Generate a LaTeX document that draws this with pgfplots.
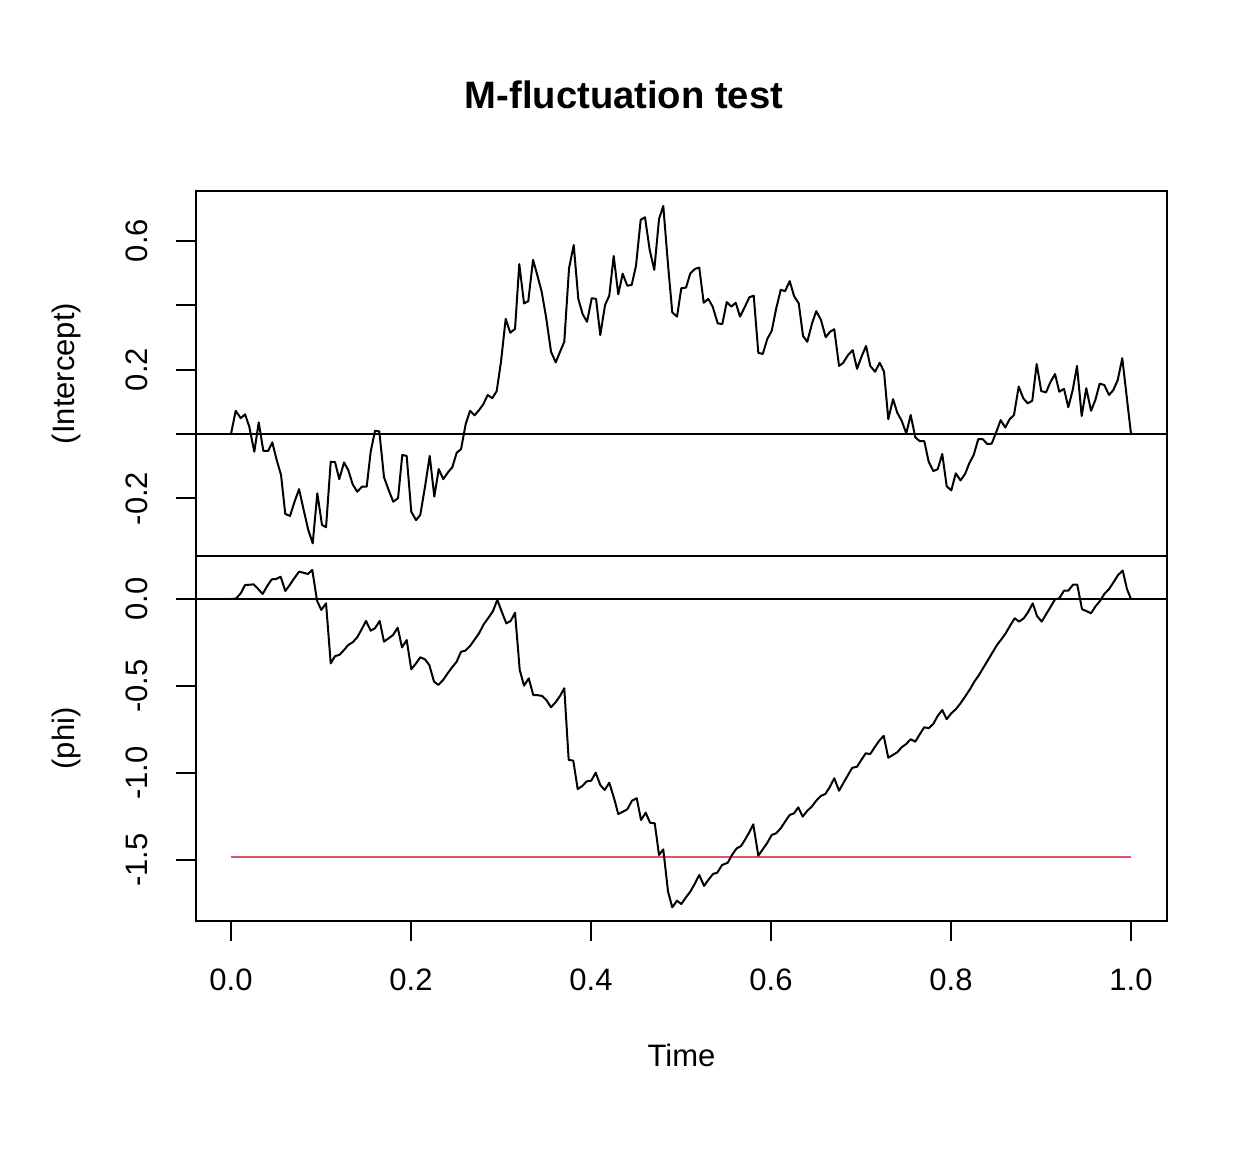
\documentclass[border=0pt]{standalone}
\usepackage{pgfplots}
\pgfplotsset{compat=1.18}
\usepackage{fontspec}
\setmainfont{Liberation Sans}
\definecolor{rred}{HTML}{DF536B}
\begin{document}
\begin{tikzpicture}[font=\fontsize{15.5pt}{18pt}\selectfont]
\useasboundingbox (0,0) rectangle (624pt,576pt);
\pgfplotsset{
  mypanel/.style={
    scale only axis, width=485.5pt, height=182.5pt,
    xmin=-0.03889, xmax=1.04,
    every axis/.append style={line width=1pt},
    axis line style={line width=1pt},
    tick style={line width=1pt, black},
    major tick length=10pt, tick align=outside,
    ytick pos=left,
    yticklabel style={rotate=90, anchor=base, inner sep=0pt, yshift=14pt},
    xticklabel style={anchor=base, inner sep=0pt, yshift=-24.85pt},
    every axis y label/.style={at={(axis description cs:-0.1250,0.5)}, rotate=90, anchor=base},
    every axis x label/.style={at={(axis description cs:0.5,-0.3992)}, anchor=base},
  }
}
\begin{axis}[mypanel, at={(98pt,298pt)}, anchor=south west,
  ymin=-0.3783, ymax=0.7535, xtick=\empty,
  ytick={-0.2,0,0.2,0.4,0.6}, yticklabels={-0.2,,0.2,,0.6},
  ylabel={(Intercept)}]
\addplot[black, line width=1pt] coordinates {(-0.1,0) (1.1,0)};
\addplot[black, line width=1pt, line join=round] coordinates {
(0,0) (0.0052,0.072) (0.0108,0.049) (0.0156,0.061) (0.0203,0.023) (0.0259,-0.055) (0.0308,0.036) (0.0359,-0.052) (0.0414,-0.052) (0.0459,-0.026) (0.0508,-0.081) (0.0556,-0.127) (0.0603,-0.248) (0.0656,-0.254) (0.07,-0.215) (0.0756,-0.171) (0.0803,-0.230) (0.0859,-0.298) (0.0908,-0.339) (0.0959,-0.184) (0.1011,-0.282) (0.1056,-0.289) (0.1108,-0.086) (0.1156,-0.087) (0.1203,-0.140) (0.1256,-0.088) (0.1303,-0.112) (0.1352,-0.156) (0.1403,-0.179) (0.1456,-0.163) (0.1508,-0.163) (0.1552,-0.055) (0.16,0.010) (0.1648,0.008) (0.17,-0.134) (0.1752,-0.174) (0.1803,-0.210) (0.1856,-0.199) (0.1903,-0.065) (0.1952,-0.068) (0.2003,-0.241) (0.2056,-0.267) (0.2103,-0.251) (0.2156,-0.163) (0.2208,-0.068) (0.2259,-0.194) (0.2308,-0.109) (0.2359,-0.140) (0.2408,-0.120) (0.2459,-0.103) (0.2508,-0.058) (0.2556,-0.047) (0.2608,0.031) (0.2656,0.072) (0.2706,0.058) (0.2756,0.074) (0.2803,0.092) (0.2852,0.121) (0.2903,0.111) (0.2952,0.133) (0.3,0.224) (0.3052,0.357) (0.3103,0.314) (0.3156,0.326) (0.3203,0.527) (0.3256,0.405) (0.3303,0.412) (0.3356,0.540) (0.3403,0.493) (0.3452,0.441) (0.35,0.364) (0.3556,0.255) (0.3608,0.222) (0.3656,0.255) (0.3703,0.286) (0.3756,0.514) (0.3808,0.586) (0.3859,0.419) (0.3908,0.371) (0.3956,0.348) (0.4008,0.421) (0.4056,0.419) (0.4103,0.307) (0.4156,0.400) (0.4203,0.429) (0.4252,0.552) (0.4303,0.433) (0.4352,0.497) (0.4403,0.460) (0.4452,0.462) (0.45,0.522) (0.4552,0.664) (0.46,0.672) (0.4652,0.571) (0.4703,0.509) (0.4756,0.667) (0.4803,0.707) (0.4856,0.524) (0.4903,0.377) (0.4956,0.364) (0.5003,0.452) (0.5056,0.454) (0.5103,0.498) (0.5156,0.512) (0.5203,0.516) (0.5252,0.407) (0.5303,0.419) (0.5352,0.395) (0.5408,0.343) (0.5459,0.341) (0.5508,0.409) (0.5559,0.395) (0.5608,0.407) (0.5656,0.364) (0.5708,0.393) (0.5759,0.424) (0.5808,0.429) (0.5859,0.252) (0.5908,0.248) (0.5959,0.295) (0.6008,0.320) (0.6056,0.387) (0.6108,0.447) (0.6156,0.443) (0.6208,0.474) (0.6256,0.428) (0.6308,0.405) (0.6356,0.304) (0.6403,0.286) (0.6456,0.343) (0.6503,0.381) (0.6556,0.353) (0.6608,0.300) (0.6656,0.317) (0.6703,0.325) (0.6756,0.211) (0.6803,0.221) (0.6856,0.245) (0.6908,0.260) (0.6956,0.202) (0.7003,0.238) (0.7056,0.273) (0.7103,0.211) (0.7156,0.193) (0.7208,0.221) (0.7256,0.193) (0.7303,0.046) (0.7356,0.108) (0.7403,0.066) (0.7452,0.041) (0.7503,0.002) (0.7552,0.059) (0.7603,-0.010) (0.7652,-0.022) (0.7703,-0.022) (0.7752,-0.086) (0.7803,-0.115) (0.7852,-0.109) (0.7903,-0.062) (0.7952,-0.162) (0.8003,-0.175) (0.8053,-0.122) (0.8106,-0.144) (0.8156,-0.124) (0.8203,-0.091) (0.8252,-0.065) (0.8303,-0.016) (0.8352,-0.016) (0.8403,-0.031) (0.8452,-0.030) (0.85,0.004) (0.8552,0.043) (0.8603,0.020) (0.8652,0.046) (0.87,0.059) (0.8752,0.147) (0.8803,0.111) (0.8852,0.095) (0.8903,0.103) (0.8952,0.217) (0.9003,0.133) (0.9056,0.129) (0.9103,0.160) (0.9156,0.186) (0.9203,0.131) (0.9256,0.140) (0.9303,0.083) (0.9352,0.136) (0.94,0.211) (0.9452,0.056) (0.9503,0.142) (0.9556,0.072) (0.9603,0.105) (0.9652,0.156) (0.9703,0.152) (0.9756,0.121) (0.9803,0.136) (0.9852,0.167) (0.9903,0.235) (1.0,0)
};
\end{axis}
\begin{axis}[mypanel, at={(98pt,115.5pt)}, anchor=south west,
  ymin=-1.8506, ymax=0.2471,
  xtick={0,0.2,0.4,0.6,0.8,1}, xticklabels={0.0,0.2,0.4,0.6,0.8,1.0}, xtick pos=bottom,
  ytick={-1.5,-1,-0.5,0}, yticklabels={-1.5,-1.0,-0.5,0.0},
  ylabel={(phi)}, xlabel={Time}]
\addplot[black, line width=1pt] coordinates {(-0.1,0) (1.1,0)};
\addplot[rred, line width=1pt] coordinates {(0,-1.483) (1,-1.483)};
\addplot[black, line width=1pt, line join=round] coordinates {
(0,0) (0.0056,0.002) (0.0108,0.033) (0.0156,0.080) (0.0203,0.082) (0.0252,0.084) (0.0303,0.057) (0.0352,0.029) (0.0403,0.075) (0.0452,0.113) (0.0503,0.115) (0.0552,0.128) (0.0603,0.046) (0.0652,0.080) (0.0703,0.119) (0.0756,0.157) (0.0803,0.151) (0.0856,0.144) (0.0903,0.167) (0.0956,-0.010) (0.1003,-0.063) (0.1056,-0.025) (0.1108,-0.370) (0.1156,-0.328) (0.1203,-0.322) (0.1256,-0.293) (0.1303,-0.264) (0.1352,-0.249) (0.1403,-0.220) (0.1452,-0.174) (0.15,-0.126) (0.1552,-0.182) (0.16,-0.168) (0.1652,-0.126) (0.17,-0.245) (0.1752,-0.226) (0.18,-0.207) (0.1852,-0.165) (0.19,-0.278) (0.1952,-0.236) (0.2003,-0.404) (0.2056,-0.370) (0.2103,-0.335) (0.2156,-0.347) (0.2203,-0.379) (0.2256,-0.475) (0.2303,-0.494) (0.2356,-0.466) (0.2408,-0.427) (0.2456,-0.393) (0.2508,-0.360) (0.2556,-0.303) (0.2603,-0.297) (0.2656,-0.270) (0.2703,-0.236) (0.2756,-0.197) (0.2806,-0.147) (0.2859,-0.109) (0.2911,-0.069) (0.2959,-0.005) (0.3008,-0.073) (0.3059,-0.140) (0.3108,-0.126) (0.3156,-0.079) (0.3208,-0.408) (0.3256,-0.498) (0.3308,-0.456) (0.3359,-0.552) (0.3408,-0.553) (0.3456,-0.557) (0.3503,-0.580) (0.3556,-0.622) (0.3603,-0.596) (0.3656,-0.557) (0.3703,-0.513) (0.3752,-0.925) (0.3803,-0.929) (0.3852,-1.092) (0.3903,-1.075) (0.3952,-1.048) (0.4003,-1.044) (0.4052,-0.998) (0.4103,-1.069) (0.4152,-1.098) (0.4203,-1.056) (0.4256,-1.145) (0.4303,-1.236) (0.4356,-1.222) (0.4403,-1.209) (0.4456,-1.159) (0.4508,-1.145) (0.4556,-1.270) (0.4608,-1.228) (0.4656,-1.286) (0.4708,-1.289) (0.4756,-1.471) (0.4803,-1.439) (0.4856,-1.682) (0.4903,-1.772) (0.4956,-1.734) (0.5003,-1.753) (0.5056,-1.714) (0.5103,-1.682) (0.5156,-1.634) (0.5203,-1.586) (0.5256,-1.649) (0.5303,-1.615) (0.5356,-1.580) (0.5403,-1.573) (0.5456,-1.529) (0.5519,-1.516) (0.5567,-1.471) (0.5619,-1.433) (0.5667,-1.420) (0.5714,-1.381) (0.5763,-1.337) (0.5803,-1.295) (0.5859,-1.475) (0.5908,-1.439) (0.5959,-1.401) (0.6008,-1.356) (0.6056,-1.347) (0.6108,-1.318) (0.6156,-1.280) (0.6208,-1.241) (0.6256,-1.232) (0.6303,-1.197) (0.6352,-1.251) (0.6403,-1.217) (0.6452,-1.194) (0.6503,-1.159) (0.6552,-1.132) (0.6603,-1.121) (0.6652,-1.082) (0.6703,-1.030) (0.6756,-1.102) (0.6803,-1.059) (0.6856,-1.011) (0.6903,-0.970) (0.6956,-0.964) (0.7003,-0.925) (0.7052,-0.887) (0.7103,-0.891) (0.7152,-0.852) (0.7203,-0.814) (0.7252,-0.786) (0.7303,-0.912) (0.7352,-0.897) (0.7403,-0.881) (0.7452,-0.852) (0.7503,-0.833) (0.7552,-0.806) (0.7603,-0.820) (0.7652,-0.778) (0.7703,-0.737) (0.7752,-0.743) (0.7803,-0.718) (0.7852,-0.672) (0.7903,-0.638) (0.7952,-0.691) (0.8003,-0.657) (0.8056,-0.632) (0.8106,-0.599) (0.8158,-0.560) (0.8211,-0.519) (0.8259,-0.475) (0.8311,-0.437) (0.8359,-0.395) (0.8411,-0.351) (0.8459,-0.309) (0.8511,-0.264) (0.8559,-0.232) (0.8608,-0.197) (0.8659,-0.151) (0.8708,-0.111) (0.8756,-0.130) (0.8808,-0.111) (0.8856,-0.076) (0.8908,-0.025) (0.8956,-0.098) (0.9008,-0.130) (0.9056,-0.088) (0.9108,-0.044) (0.9156,-0.002) (0.9203,0.004) (0.9256,0.048) (0.9303,0.048) (0.9356,0.082) (0.9403,0.082) (0.9456,-0.059) (0.9503,-0.069) (0.9556,-0.082) (0.9603,-0.044) (0.9656,-0.011) (0.9703,0.029) (0.9756,0.057) (0.9803,0.094) (0.9856,0.138) (0.9908,0.163) (0.9956,0.056) (1.0,0)
};
\end{axis}
\node[anchor=base, font=\fontsize{19.1pt}{22pt}\selectfont\bfseries] at (312pt,521.85pt) {M-fluctuation test};
\end{tikzpicture}
\end{document}
